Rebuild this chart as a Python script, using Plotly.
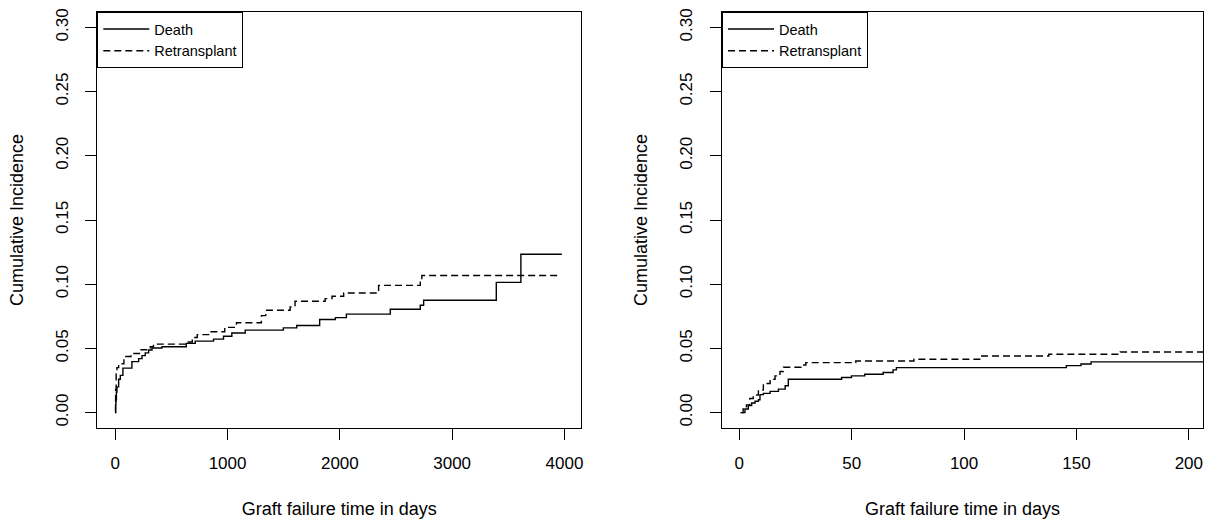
import plotly.graph_objects as go

# ---------------- data ----------------
# Left panel: full follow-up (days)
death_t_left = [0, 3, 6, 10, 15, 30, 45, 68, 148, 208, 238, 267, 297, 327, 416, 632, 712,
                875, 964, 1038, 1157, 1497, 1616, 1820, 1960, 2058, 2449, 2716, 2746, 3393, 3612, 3977]
death_ci_left = [0, 0.006, 0.010, 0.016, 0.020, 0.026, 0.029, 0.0346, 0.0397, 0.042, 0.0444, 0.0465,
                 0.0488, 0.0503, 0.0513, 0.0539, 0.0557, 0.0572, 0.0595, 0.062, 0.0642, 0.066, 0.0678,
                 0.0725, 0.074, 0.0767, 0.0805, 0.0836, 0.0875, 0.1014, 0.1233, 0.1233]
retx_t_left = [0, 3, 8, 15, 30, 77, 140, 223, 312, 340, 637, 686, 730, 840, 975, 1079, 1301, 1340,
               1557, 1601, 1869, 1930, 2034, 2345, 2716, 2730, 3964]
retx_ci_left = [0, 0.018, 0.030, 0.035, 0.038, 0.0437, 0.046, 0.049, 0.0513, 0.0533, 0.055, 0.0585,
                0.0607, 0.063, 0.0664, 0.070, 0.0755, 0.0797, 0.0823, 0.0867, 0.0888, 0.0906, 0.0931,
                0.0991, 0.1030, 0.1068, 0.1068]

# Right panel: first 200 days
death_t_right = [0.6, 2.5, 4, 5.5, 7, 8.5, 9.2, 10.7, 13.7, 17.4, 20.4, 21.8, 45.5, 49.9, 55.8,
                 64.0, 68.4, 69.9, 145.5, 152.0, 156.5, 210]
death_ci_right = [0, 0.0028, 0.0054, 0.0075, 0.0088, 0.010, 0.014, 0.015, 0.0165, 0.0183, 0.0209,
                  0.026, 0.0273, 0.0286, 0.0299, 0.0312, 0.0333, 0.035, 0.0366, 0.0379, 0.0395, 0.0395]
retx_t_right = [0.6, 1.7, 3.2, 4.7, 6.2, 8.5, 10.7, 13.7, 15.9, 18.1, 19.6, 27.4, 29.6, 51.8, 77.7,
                107.3, 137.7, 169.5, 210]
retx_ci_right = [0, 0.0028, 0.006, 0.011, 0.0137, 0.0175, 0.0227, 0.026, 0.0286, 0.032, 0.0353,
                 0.0371, 0.0389, 0.0402, 0.0415, 0.0441, 0.0454, 0.0472, 0.0472]

series_names = ["Death", "Retransplant"]
y_ticks = [0.00, 0.05, 0.10, 0.15, 0.20, 0.25, 0.30]
y_tick_text = ["0.00", "0.05", "0.10", "0.15", "0.20", "0.25", "0.30"]
x_ticks_left = [0, 1000, 2000, 3000, 4000]
x_ticks_right = [0, 50, 100, 150, 200]
x_title = "Graft failure time in days"
y_title = "Cumulative Incidence"

# ---------------- figure ----------------
W, H = 1206, 521
FONT = "Liberation Sans, Arial, sans-serif"
fig = go.Figure()

line_solid = dict(color="black", width=1.4, shape="hv")
line_dash = dict(color="black", width=1.4, shape="hv", dash="7px,4px")

fig.add_trace(go.Scatter(x=death_t_left, y=death_ci_left, mode="lines", name=series_names[0],
                         line=line_solid, xaxis="x", yaxis="y", legend="legend"))
fig.add_trace(go.Scatter(x=retx_t_left, y=retx_ci_left, mode="lines", name=series_names[1],
                         line=line_dash, xaxis="x", yaxis="y", legend="legend"))
fig.add_trace(go.Scatter(x=death_t_right, y=death_ci_right, mode="lines", name=series_names[0],
                         line=line_solid, xaxis="x2", yaxis="y2", legend="legend2"))
fig.add_trace(go.Scatter(x=retx_t_right, y=retx_ci_right, mode="lines", name=series_names[1],
                         line=line_dash, xaxis="x2", yaxis="y2", legend="legend2"))

ydom = [(H - 428) / H, (H - 12) / H]
axis_common = dict(showline=True, mirror=True, linecolor="black", linewidth=1,
                   ticks="outside", ticklen=11, tickcolor="black", tickwidth=1,
                   showgrid=False, zeroline=False, automargin=False,
                   tickfont=dict(family=FONT, size=17, color="black"))

xaxis_base = dict(axis_common, ticklabelstandoff=9,
                  title=dict(text=x_title, font=dict(family=FONT, size=18, color="black"),
                             standoff=29))
yaxis_base = dict(axis_common, tickvals=y_ticks, ticktext=y_tick_text, tickangle=-90,
                  range=[-0.012, 0.312], ticklabelstandoff=11,
                  title=dict(text=y_title, font=dict(family=FONT, size=18, color="black"), standoff=24))

legend_base = dict(bordercolor="black", borderwidth=1, bgcolor="white",
                   font=dict(family=FONT, size=14.5, color="black"),
                   xanchor="left", yanchor="top", tracegroupgap=0, itemwidth=46)

fig.update_layout(
    width=W, height=H,
    margin=dict(l=0, r=0, t=0, b=0),
    paper_bgcolor="white", plot_bgcolor="white",
    xaxis=dict(xaxis_base, domain=[97.3 / W, 581.3 / W], range=[-160, 4150],
               tickvals=x_ticks_left, anchor="y"),
    yaxis=dict(yaxis_base, domain=ydom, anchor="x"),
    xaxis2=dict(xaxis_base, domain=[722 / W, 1203 / W], range=[-7.7, 206.3],
                tickvals=x_ticks_right, anchor="y2"),
    yaxis2=dict(yaxis_base, domain=ydom, anchor="x2"),
    legend=dict(legend_base, x=97.3 / W, y=(H - 12) / H),
    legend2=dict(legend_base, x=722 / W, y=(H - 12) / H),
    showlegend=True,
)

fig.write_html("out.html", config={"displayModeBar": False},
               post_script="document.body.style.margin='0';document.body.style.overflow='hidden';")
